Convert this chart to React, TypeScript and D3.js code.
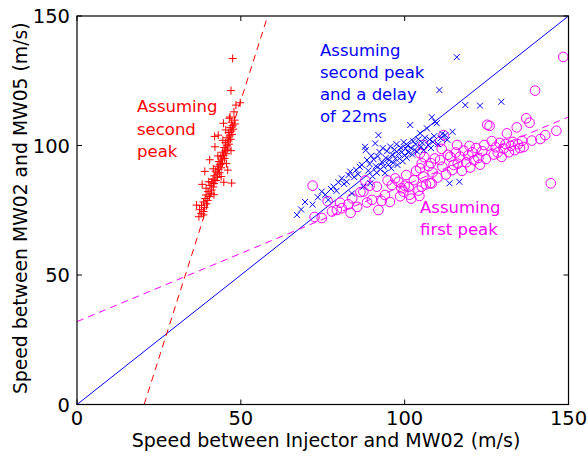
import React from "react";
import * as d3 from "d3";

const xTicks = [0, 50, 100, 150];
const yTicks = [0, 50, 100, 150];

// "Assuming second peak" (red +)
const redPoints: [number, number][] = [
  [37.2,72.5],[37.9,73.8],[38.6,74.5],[37.4,75.2],[38.9,76.0],[38.0,76.8],[39.5,77.5],[38.6,78.2],
  [39.9,78.8],[39.1,79.5],[40.4,80.3],[39.4,80.9],[40.9,81.6],[40.0,82.2],[41.1,82.8],[39.4,83.5],
  [41.6,84.0],[40.6,84.6],[41.8,85.3],[41.0,85.9],[42.4,86.5],[41.5,87.0],[42.9,87.7],[41.9,88.3],
  [42.8,88.9],[43.5,89.5],[42.3,90.1],[43.2,90.8],[44.0,91.4],[42.8,92.0],[43.7,92.6],[44.4,93.2],
  [43.3,93.8],[44.2,94.4],[45.0,95.0],[43.9,95.6],[44.7,96.2],[45.5,96.8],[44.4,97.4],[45.3,98.0],
  [46.0,98.6],[44.9,99.2],[42.1,99.5],[45.8,99.9],[46.4,100.5],[45.3,101.1],[46.2,101.8],[46.9,102.4],
  [45.8,103.0],[46.6,103.7],[43.1,104.0],[47.3,104.3],[46.3,105.0],[47.1,105.6],[47.7,106.3],[46.8,106.9],
  [47.5,107.6],[48.2,108.3],[44.7,108.6],[47.2,109.0],[48.1,109.8],[46.5,110.5],[46.7,111.0],[47.9,113.0],
  [48.5,115.6],[49.8,116.5],[47.0,121.2],[47.5,133.6],[47.2,85.5],[36.5,77.0],[38.6,73.2],[40.2,86.0],
  [41.6,91.0],[43.0,96.0],[41.8,81.0],[44.0,88.0],[45.6,93.0],[47.0,98.0],[44.5,102.0],[45.4,106.0],
  [39.0,90.0],[40.5,94.5],[38.2,85.0],[42.0,103.5],[46.0,90.5],[44.8,85.8],
];

// "Assuming second peak and a delay of 22ms" (blue x)
const bluePoints: [number, number][] = [
  [67.1,73.2],[68.4,75.3],[69.6,78.2],[71.9,77.2],[73.5,80.0],[74.7,82.2],[75.8,81.0],[76.7,79.0],
  [77.5,83.2],[78.3,84.1],[79.2,82.5],[79.8,85.8],
  [80.8,87.3],[81.5,85.2],[82.3,86.0],[82.9,88.6],[83.4,89.9],[83.9,81.5],[84.6,87.8],[85.2,90.6],
  [85.8,88.9],[86.3,91.8],[86.9,92.5],[87.4,84.1],[87.9,99.5],[88.1,98.2],[88.5,94.4],[88.9,90.3],
  [89.3,92.8],[89.5,85.4],[89.8,96.0],[90.2,88.1],[90.5,94.7],
  [91.0,100.8],[91.2,92.0],[91.5,89.5],[91.8,95.8],[92.0,104.0],[92.3,97.5],[92.6,90.8],[93.0,93.6],
  [93.3,99.0],[93.6,91.9],[94.0,89.3],[94.2,95.2],[94.6,97.8],[95.0,92.6],[95.3,94.4],[95.6,99.6],
  [95.9,91.2],[96.2,96.5],[96.5,93.3],[96.9,98.4],[97.2,94.9],[97.5,100.5],[97.8,92.5],[98.1,96.9],
  [98.4,95.0],[98.8,99.2],[99.1,97.4],[99.4,93.9],[99.7,101.3],[100.0,96.2],
  [100.3,98.8],[100.6,95.3],[100.9,100.0],[101.2,97.3],[101.7,107.9],[101.9,99.1],[102.3,96.5],[102.6,101.6],
  [103.0,98.3],[103.4,100.4],[103.8,97.6],[104.2,102.4],[104.7,104.7],[105.0,99.5],[105.4,101.0],[105.8,98.2],
  [106.2,103.0],[106.8,106.6],[107.2,100.2],[107.6,102.3],[108.0,99.0],[108.3,110.9],[108.6,101.4],[109.0,103.6],
  [109.3,109.2],[109.8,108.6],[110.2,100.5],[110.6,121.4],[111.0,102.8],[111.5,104.5],[112.4,104.0],[113.0,102.2],
  [113.7,85.4],[116.7,86.0],[114.6,105.3],[115.9,134.1],[118.5,115.6],[123.0,115.4],[129.5,116.9],
];

// "Assuming first peak" (magenta o)
const magentaPoints: [number, number][] = [
  [71.9,84.5],[72.5,72.4],[74.7,72.0],[77.8,74.5],[79.3,75.1],[80.3,77.9],[80.8,75.8],[82.8,77.3],
  [84.0,79.6],[85.5,76.3],[86.5,82.0],[87.4,82.2],[88.5,78.0],[89.3,84.5],[90.0,79.0],[91.5,84.1],
  [92.0,75.1],[93.0,78.6],[94.0,80.9],[94.8,86.5],[95.5,78.2],[96.1,84.7],[97.1,87.3],[98.1,86.0],
  [98.6,80.4],[99.6,82.2],[100.5,88.6],[101.2,84.0],[102.0,79.5],[102.8,86.6],[103.5,90.2],[104.2,82.6],
  [104.7,91.2],[104.7,97.0],[105.2,93.1],[105.7,88.0],[105.7,100.2],[106.5,85.0],[107.3,92.0],[107.8,85.4],
  [108.5,89.6],[109.2,95.0],[110.0,87.6],[110.8,94.4],[110.8,101.5],[111.5,91.8],[111.9,104.0],[112.6,88.8],
  [113.2,96.4],[113.9,95.7],[114.5,90.5],[114.9,92.5],[115.6,97.3],[116.2,93.0],[116.9,95.7],[117.5,90.2],
  [118.0,98.0],[118.8,93.5],[119.4,96.2],[120.0,91.5],[120.6,97.4],[121.2,94.3],[121.8,99.0],[122.5,95.2],
  [123.0,92.6],[123.7,97.8],[124.3,100.2],[124.8,94.8],[125.2,108.0],[125.9,107.6],[126.6,101.7],[127.2,96.5],
  [127.8,99.3],[128.4,97.3],[129.0,101.0],[129.6,95.6],[130.2,98.8],[130.8,100.6],[131.2,104.7],[131.8,97.4],
  [132.4,99.8],[133.0,101.4],[133.6,98.2],[134.2,107.0],[134.6,100.5],[135.2,99.0],[135.8,101.8],[136.3,99.4],
  [137.1,110.5],[138.1,108.8],[138.8,101.9],[139.8,121.2],[141.4,102.5],[142.9,104.0],[144.6,85.4],[146.3,105.7],
  [148.4,134.2],[111.3,98.7],[108.0,93.2],[116.0,100.2],[119.8,99.8],[106.0,95.5],[100.0,84.5],[88.0,86.5],
  [83.5,74.0],[76.5,78.5],[99.0,83.5],[101.5,81.0],[104.5,80.5],[105.2,84.1],[108.3,85.4],
];

// fit lines (endpoints in data units)
const identityLine: [number, number][] = [[0, 0], [150, 150]];
const redFit: [number, number][] = [[20.5, 0], [58.2, 150]];
const magentaFit: [number, number][] = [[0, 32], [150, 111]];

const redLabel = ["Assuming", "second", "peak"];
const blueLabel = ["Assuming", "second peak", "and a delay", "of 22ms"];
const magentaLabel = ["Assuming", "first peak"];

const W = 588, H = 457;
const L = 77, R = 568.5, T = 16, B = 404.5;
const FONT = "'DejaVu Sans', Verdana, sans-serif";

export default function App() {
  const x = d3.scaleLinear().domain([0, 150]).range([L, R]);
  const y = d3.scaleLinear().domain([0, 150]).range([B, T]);
  const line = d3.line<[number, number]>().x(d => x(d[0])).y(d => y(d[1]));
  const tk = 5;
  return (
    <svg width={W} height={H} style={{ position: "fixed", left: 0, top: 0, background: "#fff" }}
      fontFamily={FONT}>
      <rect x={0} y={0} width={W} height={H} fill="#fff" />
      <defs>
        <clipPath id="plot"><rect x={L} y={T} width={R - L} height={B - T} /></clipPath>
      </defs>
      <g clipPath="url(#plot)">
        <path d={line(identityLine) || ""} stroke="#0000ff" strokeWidth={1} fill="none" />
        <path d={line(redFit) || ""} stroke="#ff0000" strokeWidth={1} fill="none" strokeDasharray="7,5" />
        <path d={line(magentaFit) || ""} stroke="#ff00ff" strokeWidth={1} fill="none" strokeDasharray="7,5" />
        {magentaPoints.map((p, i) => (
          <circle key={"m" + i} cx={x(p[0])} cy={y(p[1])} r={4.8} fill="none" stroke="#ff00ff" strokeWidth={1} />
        ))}
        {bluePoints.map((p, i) => {
          const cx = x(p[0]), cy = y(p[1]), s = 3;
          return <path key={"b" + i} d={`M${cx - s},${cy - s}L${cx + s},${cy + s}M${cx - s},${cy + s}L${cx + s},${cy - s}`}
            stroke="#0000ff" strokeWidth={1} fill="none" />;
        })}
        {redPoints.map((p, i) => {
          const cx = x(p[0]), cy = y(p[1]), s = 4;
          return <path key={"r" + i} d={`M${cx - s},${cy}L${cx + s},${cy}M${cx},${cy - s}L${cx},${cy + s}`}
            stroke="#ff0000" strokeWidth={1} fill="none" />;
        })}
      </g>
      {/* frame */}
      <rect x={L} y={T} width={R - L} height={B - T} fill="none" stroke="#000" strokeWidth={1.2} />
      {xTicks.map(t => (
        <g key={"xt" + t}>
          <line x1={x(t)} x2={x(t)} y1={B} y2={B - tk} stroke="#000" />
          <line x1={x(t)} x2={x(t)} y1={T} y2={T + tk} stroke="#000" />
          <text x={x(t)} y={425} fontSize={19.5} textAnchor="middle" fill="#000">{t}</text>
        </g>
      ))}
      {yTicks.map(t => (
        <g key={"yt" + t}>
          <line x1={L} x2={L + tk} y1={y(t)} y2={y(t)} stroke="#000" />
          <line x1={R} x2={R - tk} y1={y(t)} y2={y(t)} stroke="#000" />
          <text x={70} y={y(t) + 7} fontSize={19.5} textAnchor="end" fill="#000">{t}</text>
        </g>
      ))}
      <text x={326} y={447} fontSize={19} textAnchor="middle" fill="#000">
        Speed between Injector and MW02 (m/s)
      </text>
      <text transform={`translate(27,${(T + B) / 2 - 2}) rotate(-90)`} fontSize={18.8} textAnchor="middle" fill="#000">
        Speed between MW02 and MW05 (m/s)
      </text>
      {redLabel.map((s, i) => (
        <text key={"rl" + i} x={137} y={112 + i * 22.5} fontSize={16.5} fill="#ff0000">{s}</text>
      ))}
      {blueLabel.map((s, i) => (
        <text key={"bl" + i} x={320} y={56 + i * 22} fontSize={16.5} fill="#0000ff">{s}</text>
      ))}
      {magentaLabel.map((s, i) => (
        <text key={"ml" + i} x={420} y={213 + i * 21.5} fontSize={16.5} fill="#ff00ff">{s}</text>
      ))}
    </svg>
  );
}
